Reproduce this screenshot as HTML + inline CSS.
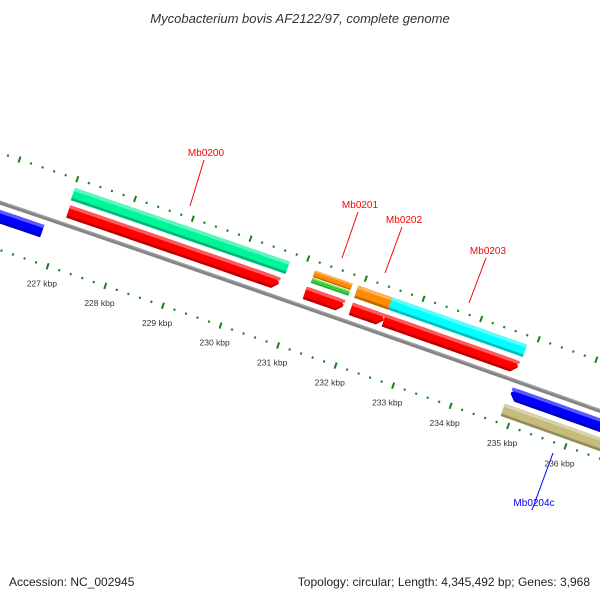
<!DOCTYPE html>
<html><head><meta charset="utf-8"><style>
body{margin:0;background:#fff}
svg{display:block}
text{font-family:"Liberation Sans","DejaVu Sans",sans-serif}
</style></head><body>
<svg id="map" width="600" height="600" viewBox="0 0 600 600">
<text x="300" y="23" text-anchor="middle" font-size="13" font-style="italic" fill="#333">Mycobacterium bovis AF2122/97, complete genome</text>
<g id="ticks"></g>
<g id="bb"></g>
<g id="feats"></g>
<g id="labels"></g>
<text x="9" y="586" font-size="12" fill="#222">Accession: NC_002945</text>
<text x="590" y="586" text-anchor="end" font-size="12" fill="#222">Topology: circular; Length: 4,345,492 bp; Genes: 3,968</text>
</svg>
<script>
// data (kbp)
const featNames = ["Mb0199c","Mb0200-cds","Mb0200","Mb0201-cds","Mb0201a","Mb0201","Mb0202-cds","Mb0202","Mb0203-cds","Mb0203","Mb0204c-cds","Mb0204c"];
const featStart = [225.3, 227.03, 227.01, 231.13, 231.17, 231.17, 231.93, 231.92, 232.50, 232.51, 234.86, 234.83];
const featEnd   = [226.73, 230.68, 230.73, 231.80, 231.82, 231.82, 232.50, 232.51, 234.83, 234.85, 237.8, 237.8];
const featStrand = [-1, 1, 1, 1, 1, 1, 1, 1, 1, 1, -1, -1];
const featRing = ["r1","r1","r2","r1","r2top","r2bot","r1","r2","r1","r2","r1","r2"];
const featColor = ["#0000ff","#ff0000","#00f59a","#ff0000","#ff8c00","#33cc33","#ff0000","#ff8c00","#ff0000","#00ffff","#0000ff","#c4bb7c"];
const featArrow = [true,true,false,true,false,false,true,false,true,false,true,false];
const labelText = ["Mb0200","Mb0201","Mb0202","Mb0203","Mb0204c"];
const labelColor = ["#ff0000","#ff0000","#ff0000","#ff0000","#0000ff"];
const labelPos = [[206,156],[360,208],[404,223],[488,254],[534,506]];
const labelLineEnd = [[190,206],[342,258],[385,273],[469,303],[553,453]];
const tickStartKbp = 224, tickEndKbp = 240, minorStep = 0.2;
const L = 4345.492, R = 42180, CX = -13535, CY = 40152;
const NS = "http://www.w3.org/2000/svg";
function pt(kbp, r){const t=kbp/L*2*Math.PI;return [CX+r*Math.sin(t), CY-r*Math.cos(t)];}
function mk(tag,attrs,parent){const e=document.createElementNS(NS,tag);for(const k in attrs)e.setAttribute(k,attrs[k]);parent.appendChild(e);return e;}
function arcPts(a,b,r,n){const p=[];for(let i=0;i<=n;i++){p.push(pt(a+(b-a)*i/n,r));}return p;}
function band(a,b,r0,r1,arrow,strand){
  const ak=0.1; let pts=[];
  if(arrow && strand>0){
    pts=arcPts(a,b-ak,r1,12).concat([pt(b,(r0+r1)/2)]).concat(arcPts(b-ak,a,r0,12));
  } else if(arrow && strand<0){
    pts=[pt(a,(r0+r1)/2)].concat(arcPts(a+ak,b,r1,12)).concat(arcPts(b,a+ak,r0,12));
  } else {
    pts=arcPts(a,b,r1,12).concat(arcPts(b,a,r0,12));
  }
  return pts.map(p=>p[0].toFixed(2)+","+p[1].toFixed(2)).join(" ");
}
function shade(c,f){const n=parseInt(c.slice(1),16);let r=n>>16,g=(n>>8)&255,b=n&255;
  if(f>0){r+= (255-r)*f;g+=(255-g)*f;b+=(255-b)*f;}else{r*=1+f;g*=1+f;b*=1+f;}
  return "rgb("+Math.round(r)+","+Math.round(g)+","+Math.round(b)+")";}
const ringR = {r1:[7,20], r2:[25,38], r2top:[31,38], r2bot:[25,30]};
// ticks
const tg=document.getElementById("ticks");
for(let i=0;i<=Math.round((tickEndKbp-tickStartKbp)/minorStep);i++){
  const k=tickStartKbp+i*minorStep; const major=Math.abs(k-Math.round(k))<1e-6;
  [R+47,R-45].forEach((rc,j)=>{
    const h=major?3.2:1.1; const p0=pt(k,rc-h),p1=pt(k,rc+h);
    const l=mk("line",{x1:p0[0],y1:p0[1],x2:p1[0],y2:p1[1],stroke:"#1a801a","stroke-width":2},tg);
    
    
  });
  if(major){const p=pt(k,R-63);
    const t=mk("text",{x:p[0],y:p[1]+3,"text-anchor":"middle","font-size":"8.5",fill:"#333"},tg);
    t.textContent=Math.round(k)+" kbp";
    
    
  }
}
// backbone
const bbg=document.getElementById("bb");
const bp=arcPts(tickStartKbp,tickEndKbp,R,20).map(p=>p.join(",")).join(" ");
const bl=mk("polyline",{points:bp,fill:"none",stroke:"#858585","stroke-width":4},bbg);


const bl2=mk("polyline",{points:arcPts(tickStartKbp,tickEndKbp,R+1.3,20).map(p=>p.join(",")).join(" "),fill:"none",stroke:"#a8a8a8","stroke-width":1},bbg);


// features
const fg=document.getElementById("feats");
featNames.forEach((nm,i)=>{
  const rr=ringR[featRing[i]]; const s=featStrand[i];
  const r0=s>0?R+rr[0]:R-rr[1], r1=s>0?R+rr[1]:R-rr[0];
  const g=mk("g",{},fg);
  
  
  const th=r1-r0;
  mk("polygon",{points:band(featStart[i],featEnd[i],r0,r1,featArrow[i],s),fill:shade(featColor[i],-0.25)},g);
  mk("polygon",{points:band(featStart[i],featEnd[i],r0+th*0.2,r1,featArrow[i],s),fill:featColor[i]},g);
  mk("polygon",{points:band(featStart[i],featEnd[i],r1-th*0.25,r1,false,s),fill:shade(featColor[i],0.35)},g);
});
// labels
const lg=document.getElementById("labels");
labelText.forEach((t,i)=>{
  const p=labelPos[i], e=labelLineEnd[i];
  const ln=mk("line",{x1:p[0]-2,y1:p[1]+4,x2:e[0],y2:e[1],stroke:labelColor[i],"stroke-width":1},lg);
  
  
  const tx=mk("text",{x:p[0],y:p[1],"text-anchor":"middle","font-size":"10",fill:labelColor[i]},lg);
  tx.textContent=t;
  
  
});
</script>
</body></html>
